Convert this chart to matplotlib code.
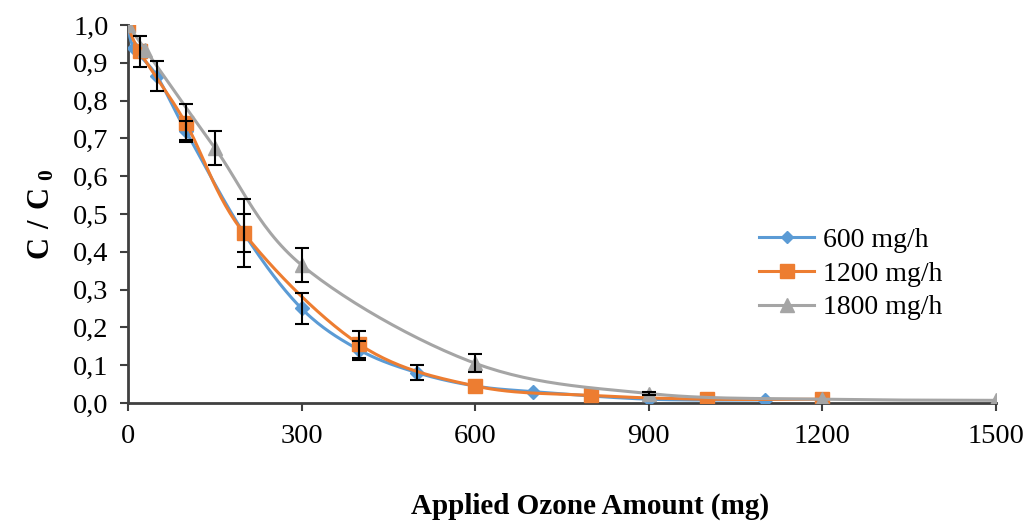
import numpy as np
import matplotlib
matplotlib.use("Agg")
import matplotlib.pyplot as plt

plt.rcParams["font.family"] = ["Liberation Serif", "DejaVu Serif"]
plt.rcParams["mathtext.fontset"] = "custom"
plt.rcParams["mathtext.rm"] = "Liberation Serif"
plt.rcParams["mathtext.bf"] = "Liberation Serif:bold"

# data
x_600 = [0, 10, 50, 100, 200, 300, 400, 500, 600, 700, 900, 1100]
y_600 = [1.0, 0.94, 0.865, 0.72, 0.45, 0.25, 0.14, 0.08, 0.045, 0.03, 0.01, 0.008]
e_600 = [0, 0, 0.04, 0.025, 0.09, 0.04, 0.025, 0.02, 0, 0, 0, 0]

x_1200 = [0, 20, 100, 200, 400, 600, 800, 1000, 1200]
y_1200 = [1.0, 0.93, 0.74, 0.45, 0.155, 0.045, 0.02, 0.01, 0.01]
e_1200 = [0, 0.04, 0.05, 0.05, 0.035, 0, 0, 0, 0]

x_1800 = [0, 30, 150, 300, 600, 900, 1200, 1500]
y_1800 = [1.0, 0.935, 0.675, 0.365, 0.105, 0.025, 0.01, 0.007]
e_1800 = [0, 0, 0.045, 0.045, 0.024, 0.005, 0, 0]

labels = ["600 mg/h", "1200 mg/h", "1800 mg/h"]
colors = ["#5B9BD5", "#ED7D31", "#A5A5A5"]
markers = ["D", "s", "^"]
msizes = [7.5, 10.5, 10.5]

# scale factors so the smoothing works in screen-like units
sx, sy = 868 / 1500, 378


def smooth(xs, ys, n=30):
    # Excel-style smoothed line (Bezier through the points)
    p = np.column_stack([np.array(xs) * sx, np.array(ys) * sy])
    pts = np.vstack([p[0], p, p[-1]])
    out = []
    t = np.linspace(0, 1, n)[:, None]
    for i in range(1, len(pts) - 2):
        p0, p1, p2, p3 = pts[i - 1], pts[i], pts[i + 1], pts[i + 2]
        b1 = p1 + (p2 - p0) / 6
        b2 = p2 - (p3 - p1) / 6
        seg = ((1 - t) ** 3) * p1 + 3 * ((1 - t) ** 2) * t * b1 + 3 * (1 - t) * t ** 2 * b2 + t ** 3 * p2
        out.append(seg)
    c = np.vstack(out)
    return c[:, 0] / sx, c[:, 1] / sy


fig = plt.figure(figsize=(10.27, 5.21), dpi=100)
ax = fig.add_axes([0.1246, 0.2265, 0.9698 - 0.1246, 0.952 - 0.2265])

series = [(x_600, y_600, e_600), (x_1200, y_1200, e_1200), (x_1800, y_1800, e_1800)]
for k, (xs, ys, es) in enumerate(series):
    cx, cy = smooth(xs, ys)
    ax.plot(cx, cy, color=colors[k], lw=2.2, zorder=3 + k, solid_capstyle="round")
    ax.plot(xs, ys, linestyle="none", marker=markers[k], ms=msizes[k],
            color=colors[k], zorder=3 + k)
    ax.plot([], [], color=colors[k], lw=2.2, marker=markers[k], ms=msizes[k] - 1,
            label=labels[k])
    xe = [x for x, e in zip(xs, es) if e > 0]
    ye = [y for y, e in zip(ys, es) if e > 0]
    ee = [e for e in es if e > 0]
    ax.errorbar(xe, ye, yerr=ee, fmt="none", ecolor="black", elinewidth=1.5,
                capsize=5, capthick=1.5, zorder=7)

ax.set_xlim(0, 1500)
ax.set_ylim(0, 1.0)
ax.set_xticks([0, 300, 600, 900, 1200, 1500])
ax.set_yticks(np.arange(0, 1.01, 0.1))
ax.set_yticklabels([f"{v:.1f}".replace(".", ",") for v in np.arange(0, 1.01, 0.1)])
ax.tick_params(axis="both", labelsize=20.5, colors="#404040", labelcolor="black",
               width=1.5, length=6, direction="out")
ax.tick_params(axis="x", pad=9)
ax.tick_params(axis="y", pad=8)
for s in ["top", "right"]:
    ax.spines[s].set_visible(False)
for s in ["left", "bottom"]:
    ax.spines[s].set_color("#404040")
    ax.spines[s].set_linewidth(2)

fig.text(0.575, 0.028, "Applied Ozone Amount (mg)", fontsize=21, fontweight="bold",
         ha="center", va="center")
ax.set_ylabel(r"$\mathbf{C\ /\ C_{\ 0}}$", fontsize=22, labelpad=12)

ax.legend(loc="upper left", bbox_to_anchor=(0.728, 0.585), bbox_transform=fig.transFigure,
          frameon=False, fontsize=20, handlelength=2.0, handletextpad=0.3,
          labelspacing=0.3, borderaxespad=0)

fig.savefig("out.png", dpi=100)
